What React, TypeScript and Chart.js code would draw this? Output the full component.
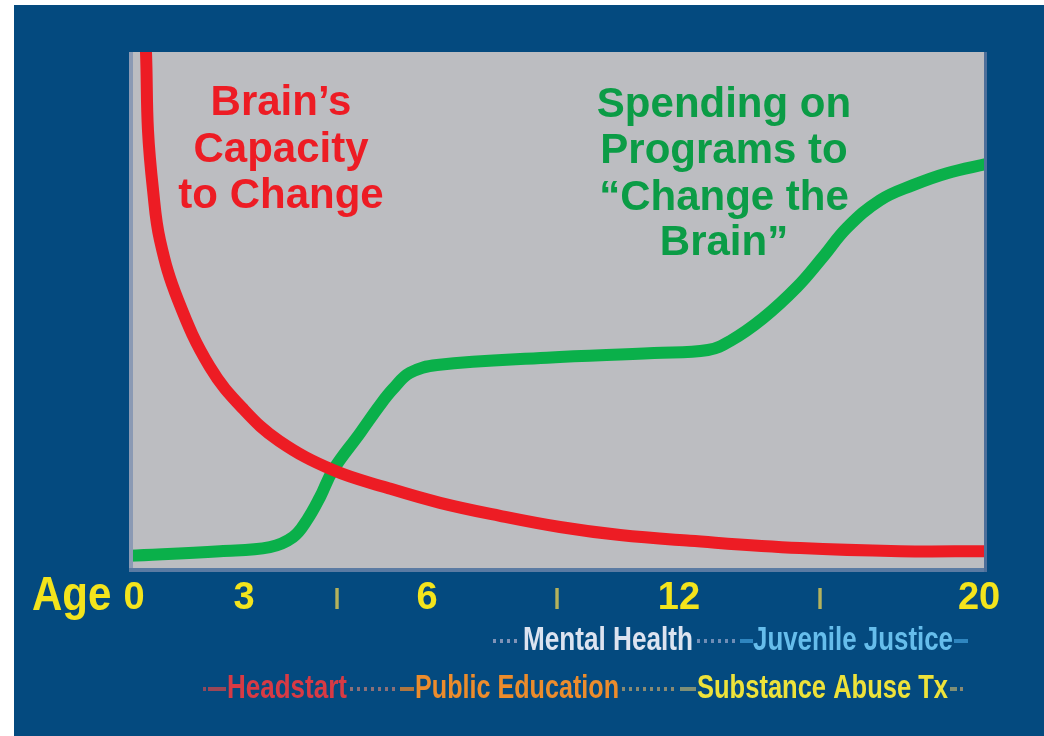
import React, { useEffect, useRef } from "react";
import { Chart, registerables } from "chart.js";

Chart.register(...registerables);

// Position along the (schematic, non-linear) age timeline: 0..100 across the plot
const brainPos = [1.63, 1.98, 2.21, 2.8, 3.61, 5.71, 9.44, 13.4, 17.5, 23.78, 30.07, 36.25, 43.24, 50.23, 57.23, 65.38, 78.21, 89.86, 100];
const brainCapacity = [110, 100, 85.0, 73.5, 63.8, 52.3, 39.4, 31.2, 25.2, 19.6, 16.2, 13.3, 10.8, 8.65, 7.1, 6.0, 4.6, 4.0, 4.0];

const spendPos = [0, 10.61, 16.43, 19.11, 20.75, 22.26, 23.78, 26.92, 29.25, 30.77, 32.75, 35.9, 48.72, 61.19, 67.48, 70.05, 73.89, 77.86, 80.89, 83.68, 87.53, 91.38, 95.34, 100];
const spending = [3.1, 4.0, 4.8, 6.7, 10.0, 14.4, 19.6, 26.7, 32.1, 35.2, 38.3, 39.8, 41.2, 42.1, 42.7, 44.4, 48.8, 54.8, 60.6, 66.2, 71.5, 74.4, 76.7, 78.5];

const tickPositions = [0.58, 13.4, 24.24, 34.73, 49.88, 64.1, 80.54, 99.07];
const tickLabels = ["0", "3", "ı", "6", "ı", "12", "ı", "20"];
const axisTitle = "Age";

const brainLabel = ["Brain’s", "Capacity", "to Change"];
const spendLabel = ["Spending on", "Programs to", "“Change the", "Brain”"];

const legendRow1 = ["Mental Health", "Juvenile Justice"];
const legendRow2 = ["Headstart", "Public Education", "Substance Abuse Tx"];

const RED = "#ED1C24";
const GREEN = "#0AB04A";
const GREEN_TEXT = "#0B9C46";
const BLUE_BG = "#044A7F";
const GRAY = "#BCBDC1";
const YELLOW = "#F4E41C";
const FONT = "'Liberation Sans', Arial, sans-serif";

function drawDots(ctx: CanvasRenderingContext2D, x0: number, x1: number, y: number, color: string) {
  ctx.fillStyle = color;
  for (let x = x0; x <= x1 - 2; x += 7) {
    ctx.fillRect(x, y - 2, 3, 4);
  }
}
function drawDash(ctx: CanvasRenderingContext2D, x0: number, x1: number, y: number, color: string) {
  ctx.fillStyle = color;
  ctx.fillRect(x0, y - 2, x1 - x0, 4);
}
function drawFitText(ctx: CanvasRenderingContext2D, text: string, x: number, y: number, width: number, color: string) {
  ctx.save();
  ctx.font = `bold 26px ${FONT}`;
  const w = ctx.measureText(text).width;
  ctx.translate(x, y);
  ctx.scale(width / w, 1.25);
  ctx.fillStyle = color;
  ctx.textAlign = "left";
  ctx.textBaseline = "middle";
  ctx.fillText(text, 0, 0);
  ctx.restore();
}

const decorPlugin = {
  id: "decor",
  beforeDraw(chart: any) {
    const { ctx, chartArea } = chart;
    ctx.save();
    ctx.fillStyle = "#ffffff";
    ctx.fillRect(0, 0, chart.width, chart.height);
    ctx.fillStyle = BLUE_BG;
    ctx.fillRect(14, 5, chart.width - 14, chart.height - 5);
    ctx.fillStyle = GRAY;
    ctx.fillRect(chartArea.left, chartArea.top, chartArea.right - chartArea.left, chartArea.bottom - chartArea.top);
    ctx.restore();
  },
  beforeDatasetsDraw(chart: any) {
    const { ctx } = chart;
    ctx.save();
    ctx.font = `bold 42px ${FONT}`;
    ctx.textAlign = "center";
    ctx.textBaseline = "alphabetic";
    ctx.fillStyle = RED;
    const rb = [115, 162, 208];
    brainLabel.forEach((t, i) => ctx.fillText(t, 281, rb[i]));
    ctx.fillStyle = GREEN_TEXT;
    const gb = [117, 163, 210, 255];
    spendLabel.forEach((t, i) => ctx.fillText(t, 724, gb[i]));
    ctx.restore();
  },
  afterDatasetsDraw(chart: any) {
    const { ctx, chartArea } = chart;
    ctx.save();
    ctx.fillStyle = "#8B9AB4";
    ctx.fillRect(chartArea.left, chartArea.top, 4, chartArea.bottom - chartArea.top);
    ctx.fillStyle = "#5B7BA3";
    ctx.fillRect(chartArea.left, chartArea.bottom - 4, chartArea.right - chartArea.left, 4);
    ctx.fillStyle = "#4E6F9A";
    ctx.fillRect(chartArea.right - 3, chartArea.top, 3, chartArea.bottom - chartArea.top);
    ctx.restore();
  },
  afterDraw(chart: any) {
    const { ctx } = chart;
    ctx.save();
    ctx.font = `bold 42px ${FONT}`;
    ctx.fillStyle = YELLOW;
    ctx.textAlign = "left";
    ctx.textBaseline = "alphabetic";
    ctx.translate(32, 610);
    ctx.scale(1.0, 1.15);
    ctx.fillText(axisTitle, 0, 0);
    ctx.restore();

    ctx.save();
    const y1 = 641;
    drawDots(ctx, 493, 521, y1, "#7F93B8");
    drawFitText(ctx, legendRow1[0], 523, y1, 170, "#DCE3F0");
    drawDots(ctx, 697, 738, y1, "#6F8DB6");
    drawDash(ctx, 740, 753, y1, "#2F86C0");
    drawFitText(ctx, legendRow1[1], 753, y1, 200, "#66BDEB");
    drawDash(ctx, 954, 968, y1, "#2F86C0");
    const y2 = 689;
    drawDots(ctx, 203, 206, y2, "#8E4A5E");
    drawDash(ctx, 208, 226, y2, "#9C4656");
    drawFitText(ctx, legendRow2[0], 227, y2, 120, "#D83A44");
    drawDots(ctx, 350, 398, y2, "#8C7078");
    drawDash(ctx, 400, 414, y2, "#B0763F");
    drawFitText(ctx, legendRow2[1], 415, y2, 204, "#EC8C2C");
    drawDots(ctx, 622, 678, y2, "#8A8A72");
    drawDash(ctx, 680, 696, y2, "#7F8F76");
    drawFitText(ctx, legendRow2[2], 697, y2, 251, "#EEE23A");
    drawDash(ctx, 950, 957, y2, "#7F8F76");
    drawDots(ctx, 960, 968, y2, "#8A8A72");
    ctx.restore();
  },
};

export default function App() {
  const ref = useRef<HTMLCanvasElement | null>(null);
  useEffect(() => {
    if (!ref.current) return;
    const chart = new Chart(ref.current, {
      type: "line",
      data: {
        datasets: [
          {
            label: "Brain's Capacity to Change",
            data: brainPos.map((x, i) => ({ x, y: brainCapacity[i] })),
            borderColor: RED,
            borderWidth: 12,
            pointRadius: 0,
            fill: false,
            tension: 0.4,
            clip: 0,
          },
          {
            label: "Spending on Programs to Change the Brain",
            data: spendPos.map((x, i) => ({ x, y: spending[i] })),
            borderColor: GREEN,
            borderWidth: 12,
            pointRadius: 0,
            fill: false,
            tension: 0.4,
            clip: 0,
          },
        ],
      },
      options: {
        animation: false,
        responsive: false,
        events: [],
        layout: { padding: { left: 129, right: 57, top: 52, bottom: 0 } },
        plugins: { legend: { display: false }, tooltip: { enabled: false } },
        scales: {
          x: {
            type: "linear",
            min: 0,
            max: 100,
            grid: { display: false, drawTicks: false },
            border: { display: false },
            afterBuildTicks: (scale: any) => {
              scale.ticks = tickPositions.map((v) => ({ value: v }));
            },
            afterFit: (scale: any) => {
              scale.height = 164;
            },
            ticks: {
              autoSkip: false,
              maxRotation: 0,
              minRotation: 0,
              padding: 4,
              callback: (_v: any, i: number) => tickLabels[i],
              color: (c: any) => (tickLabels[c.index] === "ı" ? "#B5B25C" : YELLOW),
              font: (c: any) =>
                tickLabels[c.index] === "ı"
                  ? { family: FONT, size: 38, weight: "normal" }
                  : { family: FONT, size: 38, weight: "bold" },
            },
          },
          y: { type: "linear", min: 0, max: 100, display: false },
        },
      },
      plugins: [decorPlugin],
    } as any);
    return () => chart.destroy();
  }, []);
  return (
    <div style={{ position: "absolute", left: 0, top: 0, width: 1044, height: 736 }}>
      <canvas ref={ref} width={1044} height={736} style={{ display: "block" }} />
    </div>
  );
}
